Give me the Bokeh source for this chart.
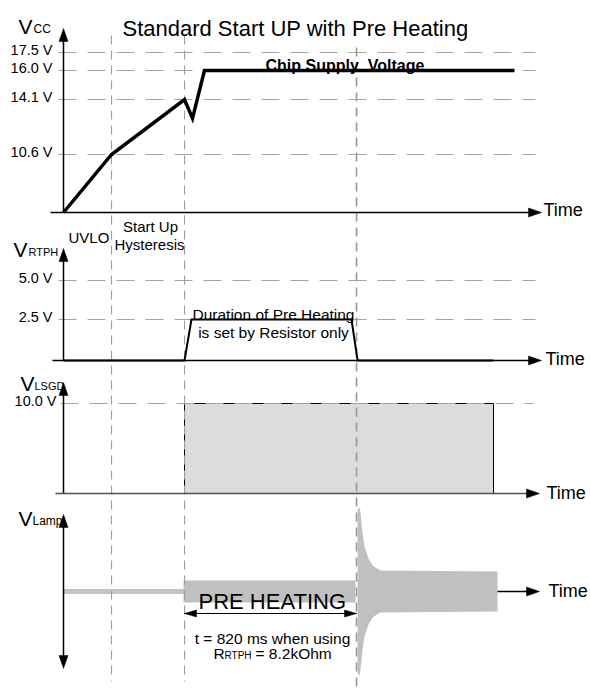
import numpy as np
from bokeh.plotting import figure
from bokeh.models import Range1d
from bokeh.core.properties import value
from bokeh.embed import file_html
from bokeh.resources import INLINE

# ---------------- data ----------------
title = "Standard Start UP with Pre Heating"
event_t = [229, 577, 1397]          # ms: UVLO, start-up, end of pre heating
preheat_ms = 820

# schematic voltage scales (value -> drawn height above baseline)
vcc_scale_v = [0, 10.6, 14.1, 16.0, 17.5]
vcc_scale_h = [0, 58, 113, 142, 160]
vcc_tick_v = [17.5, 16.0, 14.1, 10.6]
vcc_tick_labels = ["17.5 V", "16.0 V", "14.1 V", "10.6 V"]
vcc_t = [0, 229, 577, 615, 672, 2150]
vcc_v = [0, 10.6, 14.1, 12.9, 16.0, 16.0]

rtph_scale_v = [0, 2.5, 5.0]
rtph_scale_h = [0, 41, 80]
rtph_tick_v = [5.0, 2.5]
rtph_tick_labels = ["5.0 V", "2.5 V"]
rtph_t = [0, 577, 610, 1373, 1402, 2050]
rtph_v = [0, 0, 2.5, 2.5, 0, 0]

lsgd_scale_v = [0, 10.0]
lsgd_scale_h = [0, 90]
lsgd_tick_v = [10.0]
lsgd_tick_labels = ["10.0 V"]
lsgd_on_t = [577, 2050]
lsgd_on_v = 10.0

lamp_idle_t = [0, 577]
lamp_preheat_t = [572, 1392]
lamp_preheat_amp = 11
lamp_ign_t = [1402, 1413, 1419, 1425, 1435, 1456, 1479, 1511, 2069]
lamp_ign_amp = [82, 84, 72, 59, 45, 32, 25, 21, 20]

# ---------------- layout ----------------
FONT = value("Liberation Sans")
W, H = 590, 690
X_LEFT, X_RIGHT, Y_TOP, Y_BOT = 0, 590, 0, 690
AXIS_X = 63
PX_PER_MS = 172 / 820
B = {"vcc": 212, "rtph": 360, "lsgd": 493, "lamp": 591}

p = figure(width=W, height=H, x_range=Range1d(X_LEFT, X_RIGHT),
           y_range=Range1d(Y_BOT, Y_TOP), output_backend="svg",
           toolbar_location=None, min_border=0, x_axis_type=None, y_axis_type=None)
p.outline_line_color = None
p.background_fill_color = "white"
p.border_fill_color = "white"
p.extra_x_ranges = {"time": Range1d((X_LEFT - AXIS_X) / PX_PER_MS, (X_RIGHT - AXIS_X) / PX_PER_MS)}
p.extra_y_ranges = {k: Range1d(b - Y_BOT, b - Y_TOP) for k, b in B.items()}


def lvl(v, sv, sh):
    return list(np.interp(v, sv, sh))


def head(tx, ty, d, L, Wd, sx=1.0):
    if d == "up":
        return [tx, tx - Wd / 2 * sx, tx + Wd / 2 * sx], [ty, ty + L, ty + L]
    if d == "down":
        return [tx, tx - Wd / 2 * sx, tx + Wd / 2 * sx], [ty, ty - L, ty - L]
    if d == "right":
        return [tx, tx - L * sx, tx - L * sx], [ty, ty - Wd / 2, ty + Wd / 2]
    return [tx, tx + L * sx, tx + L * sx], [ty, ty - Wd / 2, ty + Wd / 2]


def txt(x, y, s, size, align="left", base="alphabetic", style="normal", **kw):
    p.text(x=[x], y=[y], text=[s], text_font=FONT, text_font_size=size,
           text_align=align, text_baseline=base, text_font_style=style,
           text_color="black", **kw)


# ---- lamp signal (drawn first, under guide lines) ----
p.line(lamp_idle_t, [0, 0], x_range_name="time", y_range_name="lamp",
       line_color="#c3c3c3", line_width=5)
p.quad(left=[lamp_preheat_t[0]], right=[lamp_preheat_t[1]], bottom=[-lamp_preheat_amp],
       top=[lamp_preheat_amp], x_range_name="time", y_range_name="lamp",
       fill_color="#c0c0c0", line_color=None)
p.patch(lamp_ign_t + lamp_ign_t[::-1], lamp_ign_amp + [-a for a in lamp_ign_amp[::-1]],
        x_range_name="time", y_range_name="lamp", fill_color="#c0c0c0", line_color=None)

# ---- LSGD gate signal ----
p.quad(left=[lsgd_on_t[0]], right=[lsgd_on_t[1]], bottom=[0],
       top=lvl([lsgd_on_v], lsgd_scale_v, lsgd_scale_h), x_range_name="time",
       y_range_name="lsgd", fill_color="#dcdcdc", line_color="black", line_width=1)

# ---- horizontal dashed level lines ----
DASH_H = dict(line_color="#a4a4a4", line_width=1.2, line_dash="18 11")
for name, tv, sv, sh, x0, x1 in [("vcc", vcc_tick_v, vcc_scale_v, vcc_scale_h, 58, 535),
                                  ("rtph", rtph_tick_v, rtph_scale_v, rtph_scale_h, 58, 535),
                                  ("lsgd", lsgd_tick_v, lsgd_scale_v, lsgd_scale_h, 60, 533)]:
    ys = lvl(tv, sv, sh)
    p.segment(x0=[x0] * len(ys), x1=[x1] * len(ys), y0=ys, y1=ys, y_range_name=name, **DASH_H)

# ---- vertical dashed event lines ----
p.segment(x0=event_t[:2], x1=event_t[:2], y0=[35, 35], y1=[681, 681], x_range_name="time",
          line_color="#9c9c9c", line_width=1.1, line_dash="9 6")
p.segment(x0=event_t[2:], x1=event_t[2:], y0=[47], y1=[688], x_range_name="time",
          line_color="#999999", line_width=1.6, line_dash="9 6")

# ---- signals ----
p.line(vcc_t, lvl(vcc_v, vcc_scale_v, vcc_scale_h), x_range_name="time", y_range_name="vcc",
       line_color="black", line_width=3.5, line_join="miter")
p.line(rtph_t, lvl(rtph_v, rtph_scale_v, rtph_scale_h), x_range_name="time", y_range_name="rtph",
       line_color="black", line_width=2, line_join="miter")

# ---- axes (layout px) ----
AX = dict(line_color="black", line_width=1.5)
p.segment(x0=[AXIS_X, 50, AXIS_X, 52, AXIS_X, AXIS_X, 497],
          x1=[AXIS_X, 530, AXIS_X, 530, AXIS_X, AXIS_X, 528],
          y0=[212, 212, 360, 360, 493, 524, 591],
          y1=[38, 212, 258, 360, 392, 658, 591], **AX)
p.segment(x0=[55], x1=[528], y0=[493], y1=[493], line_color="#505050", line_width=1.6)
hx, hy = [], []
for tx, ty, d in [(AXIS_X, 28, "up"), (541, 212, "right"), (AXIS_X, 248, "up"),
                  (541, 360, "right"), (AXIS_X, 382, "up"), (539, 493, "right"),
                  (AXIS_X, 514, "up"), (AXIS_X, 668, "down"), (539, 591, "right")]:
    a, b = head(tx, ty, d, 13, 9)
    hx.append(a)
    hy.append(b)
p.patches(hx, hy, fill_color="black", line_color="black", line_width=0.5)

# ---- pre-heat duration arrow (time range) ----
MEAS_Y = -22
t0, t1 = event_t[1], event_t[1] + preheat_ms
p.segment(x0=[t0], x1=[t1], y0=[MEAS_Y], y1=[MEAS_Y], x_range_name="time", y_range_name="lamp",
          line_color="black", line_width=1.2)
mx, my = [], []
for tx, d in [(t0, "left"), (t1, "right")]:
    a, b = head(tx, MEAS_Y, d, 12, 7, sx=1 / PX_PER_MS)
    mx.append(a)
    my.append(b)
p.patches(mx, my, x_range_name="time", y_range_name="lamp", fill_color="black", line_color="black",
          line_width=0.5)

# ---- texts ----
txt(295, 28, title, "22px", align="center")
for y_name, base_px, lab, sub, sub_x, subsize in [("vcc", 26, 18, "CC", 33, "12px"),
                                                 ("rtph", 249, 13, "RTPH", 28, "11px"),
                                                 ("lsgd", 383, 20, "LSGD", 34, "11px"),
                                                 ("lamp", 518, 18, "Lamp", 32, "12px")]:
    txt(lab, base_px, "V", "21px")
    txt(sub_x, base_px + 2, sub, subsize)

for name, tv, tl, sv, sh, xr in [("vcc", vcc_tick_v, vcc_tick_labels, vcc_scale_v, vcc_scale_h, 52),
                                 ("rtph", rtph_tick_v, rtph_tick_labels, rtph_scale_v, rtph_scale_h, 52),
                                 ("lsgd", lsgd_tick_v, lsgd_tick_labels, lsgd_scale_v, lsgd_scale_h, 56)]:
    ys = [y + 3 for y in lvl(tv, sv, sh)]
    p.text(x=[xr] * len(ys), y=ys, text=tl, y_range_name=name, text_font=FONT,
           text_font_size="14.5px", text_align="right", text_baseline="middle", text_color="black")

txt(265, 65, "Chip Supply \u00a0Voltage", "16px", style="bold")
for x, y in [(543, 209), (545, 358), (546, 492), (548, 590)]:
    txt(x, y, "Time", "18px", base="middle")
txt(68, 237, "UVLO", "15px")
txt(150, 226, "Start Up", "15px", align="center")
txt(149, 244, "Hysteresis", "15px", align="center")
txt(273, 314, "Duration of Pre Heating", "15.5px", align="center")
txt(273, 332, "is set by Resistor only", "15.5px", align="center")
txt(198, 601, "PRE HEATING", "22px")
txt(272, 638, "t = 820 ms when using", "15.5px", align="center")
txt(213, 653, "R", "15.5px")
txt(224, 655, "RTPH", "10px")
txt(255, 653, "= 8.2kOhm", "15.5px")

open("out.html", "w").write(file_html(p, INLINE))
